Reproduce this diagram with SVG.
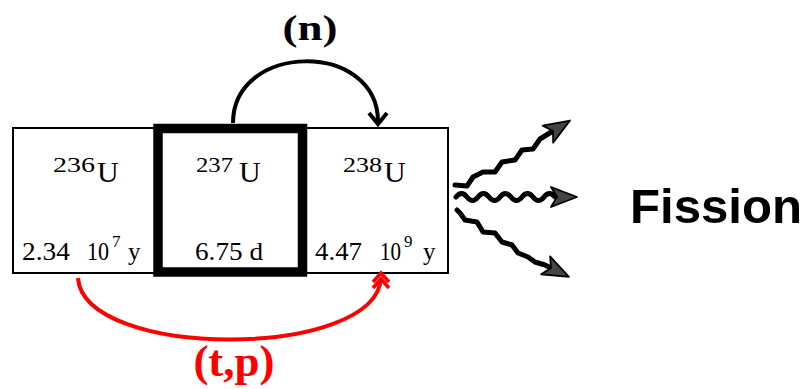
<svg xmlns="http://www.w3.org/2000/svg" width="806" height="389" viewBox="0 0 806 389">
<style>
.box{fill:#fff;stroke:#000;stroke-width:2}
.thick{fill:#fff;stroke:#000;stroke-width:9.5}
.serif{font-family:"Times New Roman","Liberation Serif",Tinos,"Nimbus Roman",Times,serif;fill:#000}
.sup{font-size:21px}
.U{font-size:30px}
.hl{font-size:25px}
.hsup{font-size:17px}
.wave{fill:none;stroke:#000;stroke-width:5;stroke-linejoin:round;stroke-linecap:round}
.arc{fill:none;stroke:#000;stroke-width:4}
.red{fill:none;stroke:#f00;stroke-width:4}
</style>
<defs>
<marker id="wa" markerUnits="userSpaceOnUse" markerWidth="28" markerHeight="24" viewBox="0 0 28 24" refX="7" refY="12" orient="auto">
<path d="M1,2 L27,12 L1,22 L7,12 z" fill="#444" stroke="#000" stroke-width="1.8" stroke-linejoin="round"/>
</marker>
</defs>
<rect width="806" height="389" fill="#fff"/>

<g id="u236">
<rect class="box" x="13" y="128" width="142" height="145"/>
<text class="serif sup" x="53" y="172" textLength="42" lengthAdjust="spacingAndGlyphs">236</text>
<text class="serif U" x="97" y="182">U</text>
<text class="serif hl" x="22" y="260" textLength="48" lengthAdjust="spacingAndGlyphs">2.34</text>
<text class="serif hl" x="87" y="260" textLength="22" lengthAdjust="spacingAndGlyphs">10</text>
<text class="serif hsup" x="112" y="247">7</text>
<text class="serif hl" x="128" y="260">y</text>
</g>

<g id="u238">
<rect class="box" x="305" y="128" width="143" height="145"/>
<text class="serif sup" x="343" y="172" textLength="39" lengthAdjust="spacingAndGlyphs">238</text>
<text class="serif U" x="384" y="182">U</text>
<text class="serif hl" x="315" y="260" textLength="47" lengthAdjust="spacingAndGlyphs">4.47</text>
<text class="serif hl" x="380" y="260" textLength="21" lengthAdjust="spacingAndGlyphs">10</text>
<text class="serif hsup" x="404" y="247">9</text>
<text class="serif hl" x="423" y="260">y</text>
</g>

<g id="u237">
<rect class="thick" x="158" y="128.5" width="144.5" height="143.5"/>
<text class="serif sup" x="196" y="172" textLength="37" lengthAdjust="spacingAndGlyphs">237</text>
<text class="serif U" x="239" y="182">U</text>
<text class="serif hl" x="195" y="260" textLength="68" lengthAdjust="spacingAndGlyphs">6.75 d</text>
</g>

<g id="fission">
<text x="630" y="223" font-family="Arial,'Liberation Sans',Helvetica,sans-serif" font-weight="bold" font-size="49" textLength="172" lengthAdjust="spacingAndGlyphs" fill="#000">Fission</text>
</g>

<g id="connectors">
<path class="arc" d="M233,123 C233,42 378,40 378,122"/>
<path class="arc" d="M369,113 L378,124 L387,113" stroke-linejoin="miter"/>
<text class="serif" x="310" y="40" text-anchor="middle" font-weight="bold" font-size="35" textLength="55" lengthAdjust="spacingAndGlyphs">(n)</text>

<path class="red" d="M78,278 C84,360 376,360 381,278"/>
<path d="M373,282 L381,273 L389,282 M373,288 L381,279 L389,288" fill="none" stroke="#f00" stroke-width="3.5"/>
<text class="serif" x="234" y="376" text-anchor="middle" font-weight="bold" font-size="45" style="fill:#f00">(t,p)</text>

<path class="wave" marker-end="url(#wa)" d="M455,185 L467,186 L473,177 L483,172 L495,172 L502,162 L515,160 L522,150 L533,149 L540,139 L553,131"/>
<path class="wave" marker-end="url(#wa)" d="M456,197 q5.5,-7 11,0 t11,0 t11,0 t11,0 t11,0 t11,0 t11,0 t11,0 t11,0 L557,197"/>
<path class="wave" marker-end="url(#wa)" d="M457,210 L460,213 L465,220 L477,222 L483,232 L495,233 L502,242 L512,245 L518,253 L528,257 L535,262 L545,265 L551,268"/>
</g>
</svg>
